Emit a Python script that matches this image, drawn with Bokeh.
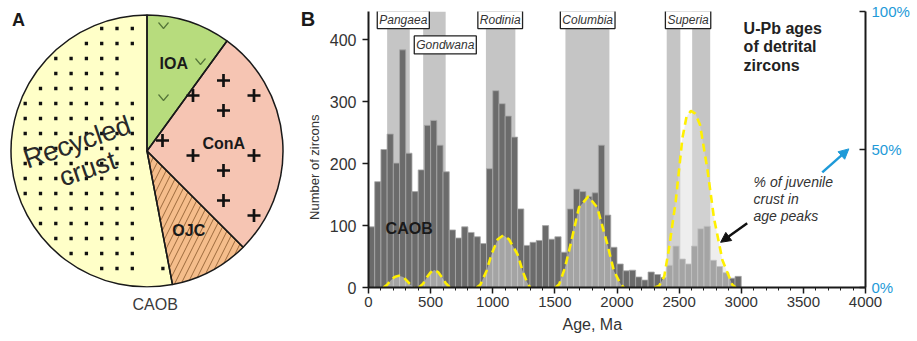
import numpy as np
from bokeh.plotting import figure
from bokeh.models import (Range1d, LinearAxis, SingleIntervalTicker, FixedTicker, Title,
                          PrintfTickFormatter, Label, Arrow, NormalHead, ColumnDataSource)
from bokeh.layouts import row
from bokeh.embed import file_html
from bokeh.resources import INLINE

FONT = "Liberation Sans"

# ---------------- Panel A data (clockwise from 12 o'clock) ----------------
pie_labels = ["IOA", "ConA", "OJC", "Recycled crust"]
pie_shares = [10.0, 27.5, 9.5, 53.0]          # percent
pie_colors = ["#b7dc7d", "#f6c5b3", "#f5bd8b", "#ffffc8"]

# ---------------- Panel B data ----------------
bin_width = 50
bin_starts = list(range(0, 3000, bin_width))
zircon_counts = [98, 171, 223, 248, 201, 384, 217, 155, 190, 262,
                 270, 230, 187, 93, 80, 98, 89, 82, 71, 192,
                 318, 297, 277, 243, 127, 68, 73, 76, 100, 78,
                 82, 57, 127, 159, 155, 147, 153, 230, 117, 65,
                 38, 27, 28, 17, 12, 25, 21, 16, 36, 67,
                 46, 38, 67, 95, 99, 44, 34, 24, 15, 18]

band_start = [150, 440, 945, 1585, 2400, 2605]
band_end = [332, 621, 1182, 1939, 2510, 2750]

sc_names = ["Pangaea", "Gondwana", "Rodinia", "Columbia", "Superia"]
sc_label_age = [280, 618, 1060, 1764, 2572]
sc_label_y = [433, 392, 433, 433, 433]

# % of juvenile crust in age peaks (right axis)
pangaea_age = [120, 150, 180, 210, 245, 280, 310, 340, 365]
pangaea_pct = [0, 1.0, 2.6, 3.8, 4.3, 3.8, 2.4, 0.9, 0]
gondwana_age = [405, 440, 470, 500, 530, 560, 590, 620, 655]
gondwana_pct = [0, 1.4, 3.7, 5.5, 6.3, 5.6, 3.8, 1.7, 0]
rodinia_age = [870, 900, 950, 990, 1040, 1085, 1130, 1200, 1240, 1275, 1300]
rodinia_pct = [0, 1.0, 6.0, 12.0, 17.5, 18.9, 17.5, 12.0, 6.0, 2.0, 0]
columbia_age = [1505, 1535, 1580, 1627, 1694, 1769, 1841, 1922, 1975, 2030, 2055]
columbia_pct = [0, 1.2, 7.0, 15.7, 29.0, 33.0, 29.0, 15.7, 6.0, 1.2, 0]
superia_age = [2300, 2338, 2380, 2418, 2472, 2526, 2560, 2595, 2630, 2668, 2727, 2781, 2848, 2928, 2955]
superia_pct = [0, 0.5, 4.0, 14.0, 31.0, 54.0, 62.0, 64.0, 63.0, 59.0, 43.0, 25.0, 10.0, 1.0, 0]

y_ticks_pct = [0, 50, 100]

TOTAL_W, TOTAL_H = 917, 341
BORDER_TOP, BORDER_BOTTOM = 11, 54
FRAME_LEFT = 368


def add_label(p, x, y, text, size, style="normal", color="#222222",
              align="center", baseline="middle", angle=0.0, **kw):
    lab = Label(x=x, y=y, text=text, text_font=FONT, text_font_size=f"{size}px",
                text_font_style=style, text_color=color, text_align=align,
                text_baseline=baseline, angle=angle, **kw)
    p.add_layout(lab)
    return lab


# ======================= Panel A : pie =======================
PW = 324
pa = figure(width=PW, height=TOTAL_H,
            x_range=Range1d(0, PW), y_range=Range1d(BORDER_BOTTOM, TOTAL_H - BORDER_TOP),
            output_backend="svg", toolbar_location=None,
            min_border_left=0, min_border_right=0,
            min_border_top=BORDER_TOP, min_border_bottom=BORDER_BOTTOM,
            x_axis_location=None, y_axis_location=None, outline_line_color=None,
            background_fill_color="white", border_fill_color="white")
pa.grid.visible = False

cx, cy, R = 146.5, TOTAL_H - 150.5, 136.0
cum = np.cumsum([0.0] + [s * 3.6 for s in pie_shares])
w_end = 90.0 - cum[:-1]
w_start = 90.0 - cum[1:]

wsrc = ColumnDataSource(dict(start=np.radians(w_start), end=np.radians(w_end),
                             color=pie_colors, hatch=[" ", " ", "/", " "]))
pa.wedge(x=cx, y=cy, radius=R, start_angle="start", end_angle="end",
         fill_color="color", line_color=None, hatch_pattern="hatch",
         hatch_color="#9c6a3c", hatch_scale=13, hatch_weight=1.0, source=wsrc)


def inside(xr, yr, k, margin):
    xd, yd = xr, TOTAL_H - yr
    dx, dy = xd - cx, yd - cy
    if np.hypot(dx, dy) > R - margin:
        return False
    phi = np.degrees(np.arctan2(dy, dx))
    s, e = w_start[k], w_end[k]
    if (phi - s) % 360 > (e - s) % 360:
        return False
    for th in (s, e):
        t = np.radians(th)
        if abs(dx * np.sin(t) - dy * np.cos(t)) < margin:
            return False
    return True


def in_box(xr, yr, box):
    return box[0] <= xr <= box[1] and box[2] <= yr <= box[3]


# dotted pattern (recycled crust)
dx_, dy_ = [], []
for i in range(-3, 22):
    for j in range(-7, 22):
        xr, yr = 40 + 15.3 * i, 88 + 15.0 * j
        if inside(xr, yr, 3, 5):
            dx_.append(xr)
            dy_.append(TOTAL_H - yr)
pa.scatter(dx_, dy_, marker="square", size=3.3, fill_color="#111111", line_color=None)

# plus pattern (ConA)
px_, py_ = [], []
cona_box = (196, 252, 130, 157)
for i in range(5):
    xr = 162 + 30.5 * i
    ys = [80 + 30 * j for j in range(-2, 9)] if i % 2 == 0 else [95 + 60 * j for j in range(-1, 5)]
    for yr in ys:
        if inside(xr, yr, 1, 4) and not in_box(xr, yr, cona_box):
            px_.append(xr)
            py_.append(TOTAL_H - yr)
pa.scatter(px_, py_, marker="cross", size=13, line_color="#111111", line_width=2.7)

# v pattern (IOA)
vx, vy = [], []
ioa_box = (152, 194, 50, 76)
for i in range(3):
    for j in range(5):
        xr, yr = 163 + 37 * i, 25 + 36 * j
        if inside(xr, yr, 0, 6) and not in_box(xr, yr, ioa_box):
            x0, y0 = xr, TOTAL_H - yr
            vx.append([x0 - 5, x0, x0 + 5])
            vy.append([y0 + 3, y0 - 3, y0 + 3])
pa.multi_line(vx, vy, line_color="#56773a", line_width=1.2)

# outlines on top
pa.wedge(x=cx, y=cy, radius=R, start_angle="start", end_angle="end",
         fill_color=None, line_color="#1a1a1a", line_width=1.5, source=wsrc)

add_label(pa, 18, TOTAL_H - 19, "A", 18, style="bold", color="#1a1a1a")
add_label(pa, 307.5, TOTAL_H - 18.5, "B", 20, style="bold", color="#1a1a1a")
add_label(pa, 76.7, TOTAL_H - 141.7, "Recycled", 27, color="#2a2a2a", angle=0.33)
add_label(pa, 87.3, TOTAL_H - 168.3, "crust", 27, color="#2a2a2a", angle=0.33)
add_label(pa, 173.3, TOTAL_H - 63.3, "IOA", 16, style="bold", color="#1a1a1a")
add_label(pa, 223.3, TOTAL_H - 143.3, "ConA", 16, style="bold", color="#1a1a1a")
add_label(pa, 188.3, TOTAL_H - 230.0, "OJC", 16, style="bold", color="#1a1a1a")
# y-axis title of panel B (sits in the left margin, next to the axis)
add_label(pa, 313.5, TOTAL_H - 166.7, "Number of zircons", 13, color="#333333", angle=np.pi / 2)
pa.add_layout(Title(text="CAOB", align="left", offset=132, standoff=13,
                    text_font=FONT, text_font_size="16px", text_font_style="normal",
                    text_color="#3a3a3a"), "below")

# ======================= Panel B : histogram =======================
YMAX = 446
pb = figure(width=TOTAL_W - PW, height=TOTAL_H, x_range=Range1d(0, 4000), y_range=Range1d(0, YMAX),
            output_backend="svg", toolbar_location=None,
            min_border_left=FRAME_LEFT - PW, min_border_right=52,
            min_border_top=BORDER_TOP, min_border_bottom=BORDER_BOTTOM,
            outline_line_color=None, background_fill_color="white", border_fill_color="white")
pb.extra_y_ranges = {"pct": Range1d(0, 100)}
pb.grid.visible = False

# supercontinent bands
pb.quad(left=band_start, right=band_end, bottom=0, top=YMAX,
        fill_color="#c5c5c5", line_color=None)

# histogram bars
pb.quad(left=bin_starts, right=[b + bin_width for b in bin_starts], bottom=0,
        top=zircon_counts, fill_color="#6b6b6b", line_color="#a8a8a8", line_width=0.8)

# juvenile crust curves
for ages, pcts in [(pangaea_age, pangaea_pct), (gondwana_age, gondwana_pct),
                   (rodinia_age, rodinia_pct), (columbia_age, columbia_pct),
                   (superia_age, superia_pct)]:
    pb.varea(x=ages, y1=[0] * len(ages), y2=pcts, y_range_name="pct",
             fill_color="#dedede", fill_alpha=0.5)
    pb.line(x=ages, y=pcts, y_range_name="pct", line_color="#fff000",
            line_width=2.6, line_dash="8 5")

# axes
for ax in (pb.xaxis[0], pb.yaxis[0]):
    ax.axis_line_color = "#1a1a1a"
    ax.axis_line_width = 2
    ax.major_tick_line_color = "#1a1a1a"
    ax.major_tick_line_width = 1.5
    ax.minor_tick_line_color = "#1a1a1a"
    ax.major_tick_in = 0
    ax.major_tick_out = 6
    ax.minor_tick_in = 0
    ax.major_label_text_font = FONT
    ax.major_label_text_color = "#333333"

pb.xaxis.ticker = SingleIntervalTicker(interval=500, num_minor_ticks=5)
pb.xaxis.minor_tick_out = 3
pb.xaxis.major_label_text_font_size = "15px"
pb.xaxis.major_label_standoff = 3

pb.yaxis.ticker = SingleIntervalTicker(interval=100, num_minor_ticks=0)
pb.yaxis.minor_tick_out = 0
pb.yaxis.major_label_text_font_size = "16px"
pb.yaxis.major_label_standoff = 6

rax = LinearAxis(y_range_name="pct", ticker=FixedTicker(ticks=y_ticks_pct, minor_ticks=[]),
                 formatter=PrintfTickFormatter(format="%d%%"))
rax.axis_line_color = "#1a1a1a"
rax.axis_line_width = 2
rax.major_tick_line_color = "#1a1a1a"
rax.major_tick_line_width = 1.5
rax.major_tick_in = 6
rax.major_tick_out = 0
rax.minor_tick_in = 0
rax.minor_tick_out = 0
rax.major_label_standoff = 6
rax.major_label_text_font = FONT
rax.major_label_text_font_size = "15px"
rax.major_label_text_color = "#1e9ad8"
pb.add_layout(rax, "right")

pb.add_layout(Title(text="Age, Ma", align="left", offset=194, standoff=8,
                    text_font=FONT, text_font_size="16px", text_font_style="normal",
                    text_color="#333333"), "below")

# supercontinent boxed labels
box_kw = dict(background_fill_color="white", border_line_color="#222222", border_line_width=1.3)
if "padding" in Label.properties():
    box_kw["padding"] = 2
for name, xa, ya in zip(sc_names, sc_label_age, sc_label_y):
    add_label(pb, xa, ya, name, 12, style="italic", color="#333333", **box_kw)

add_label(pb, 327, 96, "CAOB", 16, style="bold", color="#1a1a1a")

add_label(pb, 3019, 419, "U-Pb ages", 16, style="bold", color="#222222", align="left")
add_label(pb, 3019, 389, "of detrital", 16, style="bold", color="#222222", align="left")
add_label(pb, 3019, 359, "zircons", 16, style="bold", color="#222222", align="left")

add_label(pb, 3099, 170, "% of juvenile", 14, style="italic", color="#333333", align="left")
add_label(pb, 3099, 143, "crust in", 14, style="italic", color="#333333", align="left")
add_label(pb, 3099, 116, "age peaks", 14, style="italic", color="#333333", align="left")

pb.add_layout(Arrow(end=NormalHead(size=10, fill_color="#111111", line_color="#111111"),
                    x_start=3048, y_start=104, x_end=2834, y_end=73,
                    line_color="#111111", line_width=2.5))
pb.add_layout(Arrow(end=NormalHead(size=10, fill_color="#1e9ad8", line_color="#1e9ad8"),
                    x_start=3652, y_start=186, x_end=3866, y_end=224,
                    line_color="#1e9ad8", line_width=2.5))

layout = row(pa, pb)
open("out.html", "w").write(file_html(layout, INLINE))
